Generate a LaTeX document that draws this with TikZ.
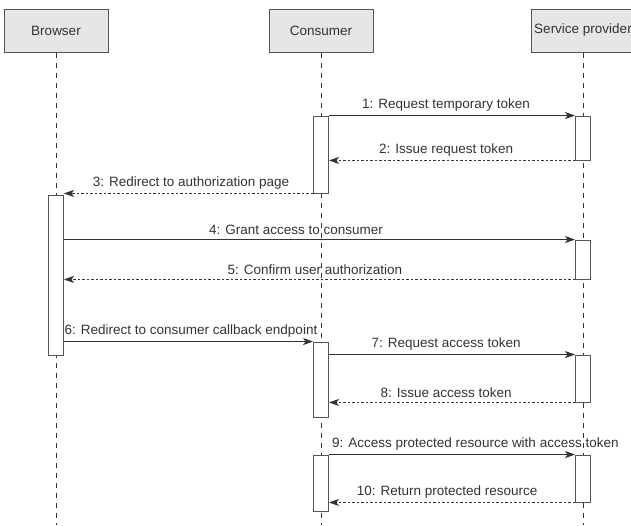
\documentclass[tikz,border=0pt]{standalone}
\usepackage{fontspec}
\setmainfont{Liberation Sans}
\usepackage{tikz}
\usetikzlibrary{arrows.meta,positioning,calc}
\definecolor{ln}{HTML}{333333}
\definecolor{hd}{HTML}{E6E6E6}
\definecolor{bd}{HTML}{555555}
\tikzset{
  head/.style={draw=bd,line width=1pt,fill=hd,minimum width=104pt,minimum height=43pt,inner sep=0pt,text=ln},
  act/.style={draw=bd,line width=0.9pt,fill=white,minimum width=15pt,inner sep=0pt},
  life/.style={draw=ln,line width=1pt,dash pattern=on 5pt off 5pt},
  msg/.style={-{Stealth[length=10pt,width=7pt,inset=2.5pt]},line width=0.9pt,draw=ln},
  ret/.style={msg,dash pattern=on 2.5pt off 2pt},
  lbl/.style={above=3pt,inner sep=1pt,text=ln},
}

\begin{document}
\begin{tikzpicture}[x=1pt,y=1pt, every node/.style={font=\fontsize{13.5}{15}\selectfont}]
\useasboundingbox (0,0) rectangle (631,-525);
\clip (0,0) rectangle (631,-525);
\node[head] (hb) at (56,-30.5) {Browser};
\node[head] (hc) at (321,-30.5) {Consumer};
\node[head] (hs) at (583,-30.5) {Service provider};
\coordinate (bot) at (0,-525);
\foreach \h in {hb,hc,hs} \draw[life] (\h.south) -- (\h.south |- bot);
\node[act,minimum height=160pt] (b1) at (56,-275) {};
\node[act,minimum height=77pt] (c1) at (321,-154.5) {};
\node[act,minimum height=75pt] (c2) at (321,-379.5) {};
\node[act,minimum height=56pt] (c3) at (321,-483) {};
\node[act,minimum height=44pt] (s1) at (583,-138) {};
\node[act,minimum height=39pt] (s2) at (583,-259.5) {};
\node[act,minimum height=47pt] (s3) at (583,-378.5) {};
\node[act,minimum height=47pt] (s4) at (583,-478.5) {};
\draw[msg] (c1.north east) -- node[lbl,pos=.476] {1: Request temporary token} (s1.north west);
\draw[ret] (s1.south west) -- node[lbl,pos=.524] {2: Issue request token} (c1.east |- s1.south west);
\draw[ret] (c1.south west) -- node[lbl,pos=.49] {3: Redirect to authorization page} (b1.north east |- c1.south west);
\draw[msg] (b1.east |- s2.north west) -- node[lbl,pos=.454] {4: Grant access to consumer} (s2.north west);
\draw[ret] (s2.south west) -- node[lbl,pos=.509] {5: Confirm user authorization} (b1.east |- s2.south west);
\draw[msg] (b1.east |- c2.north west) -- node[lbl,pos=.51] {6: Redirect to consumer callback endpoint} (c2.north west);
\draw[msg] (c2.east |- s3.north west) -- node[lbl,pos=.476] {7: Request access token} (s3.north west);
\draw[ret] (s3.south west) -- node[lbl,pos=.524] {8: Issue access token} (c2.east |- s3.south west);
\draw[msg] (c3.north east) -- node[lbl,pos=.595] {9: Access protected resource with access token} (s4.north west);
\draw[ret] (s4.south west) -- node[lbl,pos=.52] {10: Return protected resource} (c3.east |- s4.south west);
\end{tikzpicture}
\end{document}
